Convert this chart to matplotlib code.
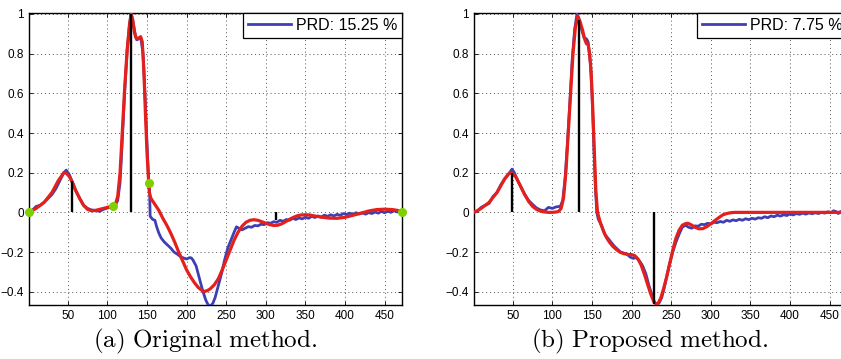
import matplotlib
matplotlib.use("Agg")
import matplotlib.pyplot as plt

plt.rcParams['font.family'] = ['Liberation Sans', 'DejaVu Sans']
plt.rcParams['mathtext.fontset'] = 'cm'

# ---- panel (a): original method ----
a_blue_x = [1,5,10,15,20,25,30,35,40,45,48,52,55,60,65,70,75,80,85,90,95,100,105,107,110,113,116,119,122,125,128,130,132,135,137,140,142,145,148,150,152,153,154,157,160,162,165,168,172,176,180,184,188,192,196,200,204,206,208,212,216,220,224,227,230,233,236,240,244,248,252,256,260,263,266,270,274,278,282,286,290,294,298,302,306,310,314,318,322,326,330,334,338,342,346,350,354,358,362,366,370,374,378,382,386,390,394,398,402,406,410,414,418,422,426,430,434,438,442,446,450,454,458,462,466,470,472]
a_blue_y = [0,0.01,0.03,0.035,0.05,0.07,0.09,0.12,0.16,0.2,0.213,0.19,0.16,0.11,0.07,0.035,0.02,0.012,0.01,0.005,0.015,0.022,0.028,0.03,0.035,0.06,0.15,0.38,0.62,0.82,0.95,1.0,0.97,0.9,0.87,0.875,0.885,0.8,0.55,0.35,0.17,0.15,-0.02,-0.035,-0.04,-0.07,-0.105,-0.13,-0.15,-0.165,-0.18,-0.2,-0.21,-0.222,-0.23,-0.235,-0.228,-0.23,-0.24,-0.27,-0.33,-0.39,-0.44,-0.465,-0.472,-0.46,-0.43,-0.37,-0.31,-0.24,-0.18,-0.14,-0.1,-0.073,-0.08,-0.088,-0.08,-0.072,-0.075,-0.066,-0.068,-0.06,-0.062,-0.052,-0.055,-0.047,-0.05,-0.04,-0.045,-0.036,-0.04,-0.03,-0.036,-0.028,-0.033,-0.024,-0.03,-0.02,-0.026,-0.018,-0.024,-0.014,-0.02,-0.012,-0.018,-0.01,-0.015,-0.006,-0.01,-0.004,-0.01,-0.002,-0.008,-0.003,-0.009,-0.001,-0.006,0.002,-0.004,0.005,-0.002,0.006,0.0,0.008,0.002,0.006,0.0]

a_red_x = [1,10,20,30,38,45,48,52,56,60,65,70,75,80,85,90,95,100,107,110,113,116,119,122,125,128,130,132,134,136,138,140,142,144,146,148,150,152,153,155,160,165,170,175,180,185,190,195,200,205,210,215,220,223,226,230,235,240,245,250,255,260,265,270,275,280,285,290,295,300,305,310,315,320,325,330,335,340,345,350,355,360,370,380,390,400,410,420,430,440,450,460,466,472]
a_red_y = [0,0.02,0.05,0.1,0.16,0.2,0.198,0.18,0.15,0.11,0.07,0.035,0.015,0.008,0.01,0.015,0.02,0.025,0.032,0.04,0.08,0.2,0.42,0.64,0.82,0.95,1.0,0.97,0.91,0.88,0.875,0.88,0.885,0.86,0.72,0.5,0.3,0.16,0.1,0.07,0.04,0.01,-0.03,-0.065,-0.105,-0.15,-0.2,-0.245,-0.29,-0.325,-0.355,-0.38,-0.395,-0.398,-0.395,-0.385,-0.365,-0.335,-0.29,-0.24,-0.19,-0.14,-0.1,-0.07,-0.05,-0.04,-0.037,-0.04,-0.047,-0.055,-0.062,-0.066,-0.065,-0.058,-0.047,-0.035,-0.025,-0.017,-0.013,-0.012,-0.013,-0.017,-0.024,-0.029,-0.03,-0.025,-0.015,-0.004,0.007,0.014,0.016,0.014,0.01,0.005]

a_knots_x = [1, 107, 153, 472]
a_knots_y = [0, 0.032, 0.15, 0.0]
a_stem_x = [55, 130, 313]
a_stem_y = [0.16, 1.0, -0.04]
a_prd = 'PRD: 15.25 %'

# ---- panel (b): proposed method ----
b_blue_x = [1,5,10,15,20,25,30,35,40,45,49,52,55,60,65,70,75,80,85,90,95,100,105,110,113,116,119,122,125,128,131,134,137,140,143,145,148,150,152,154,156,158,160,163,166,170,174,178,182,186,190,194,198,202,206,210,214,218,222,226,229,232,235,238,241,244,248,252,256,260,264,268,272,276,280,284,288,292,296,300,304,308,312,316,320,324,328,332,336,340,344,348,352,356,360,364,368,372,376,380,384,388,392,396,400,404,408,412,416,420,424,428,432,436,440,444,448,452,455,458,461,464,468,472]
b_blue_y = [0,0.005,0.025,0.035,0.045,0.08,0.1,0.14,0.17,0.195,0.218,0.2,0.17,0.13,0.09,0.06,0.04,0.022,0.012,0.008,0.025,0.02,0.028,0.03,0.06,0.17,0.35,0.55,0.77,0.92,1.0,0.97,0.92,0.88,0.875,0.86,0.75,0.6,0.38,0.15,0.0,-0.035,-0.05,-0.075,-0.11,-0.13,-0.15,-0.17,-0.185,-0.2,-0.205,-0.21,-0.225,-0.232,-0.228,-0.245,-0.27,-0.31,-0.37,-0.42,-0.455,-0.468,-0.455,-0.43,-0.385,-0.33,-0.26,-0.2,-0.15,-0.11,-0.075,-0.065,-0.075,-0.08,-0.068,-0.07,-0.06,-0.062,-0.055,-0.058,-0.05,-0.052,-0.046,-0.05,-0.04,-0.045,-0.038,-0.042,-0.035,-0.04,-0.032,-0.037,-0.03,-0.034,-0.027,-0.03,-0.022,-0.027,-0.018,-0.022,-0.014,-0.019,-0.012,-0.016,-0.008,-0.013,-0.006,-0.01,-0.004,-0.009,-0.003,-0.007,-0.002,-0.006,0.0,-0.004,0.003,-0.002,0.008,0.004,-0.006,0.004,0.0,0.003]

b_red_x = [1,5,10,15,20,25,30,35,40,45,48,52,55,60,65,70,75,80,85,90,95,100,105,108,111,114,117,120,123,126,129,132,135,138,141,143,145,147,149,151,153,155,157,160,164,168,172,176,180,185,190,195,200,204,208,212,216,220,224,228,231,234,237,240,244,248,252,256,260,264,268,271,275,280,285,290,295,300,305,310,315,320,325,330,472]
b_red_y = [0.002,0.008,0.02,0.035,0.05,0.075,0.1,0.135,0.17,0.195,0.2,0.19,0.17,0.13,0.09,0.055,0.03,0.015,0.006,0.002,0.0,0.0,0.002,0.005,0.02,0.07,0.2,0.4,0.6,0.8,0.93,0.99,0.96,0.92,0.87,0.85,0.85,0.8,0.7,0.52,0.3,0.1,0.0,-0.045,-0.09,-0.125,-0.15,-0.17,-0.185,-0.2,-0.208,-0.212,-0.213,-0.218,-0.235,-0.265,-0.31,-0.36,-0.41,-0.45,-0.463,-0.455,-0.43,-0.39,-0.33,-0.26,-0.19,-0.13,-0.09,-0.065,-0.057,-0.055,-0.062,-0.075,-0.083,-0.082,-0.072,-0.058,-0.042,-0.027,-0.013,-0.006,-0.002,0.0,0.0]

b_stem_x = [49, 134, 228]
b_stem_y = [0.2, 0.97, -0.46]
b_prd = 'PRD: 7.75 %'

xticks = [50, 100, 150, 200, 250, 300, 350, 400, 450]
yticks = [-0.4, -0.2, 0, 0.2, 0.4, 0.6, 0.8, 1]
ytick_labels = ['\u22120.4', '\u22120.2', '0', '0.2', '0.4', '0.6', '0.8', '1']

blue = '#3f3fb4'
red = '#e4201c'
green = '#7ed000'

W, H = 841, 359
fig = plt.figure(figsize=(W / 100, H / 100), dpi=100)
ax1 = fig.add_axes([29 / W, 54 / H, 373 / W, 292 / H])
ax2 = fig.add_axes([474 / W, 54 / H, 373 / W, 292 / H])


def draw(ax, bx, by, rx, ry, sx, sy, prd):
    ax.plot(bx, by, color=blue, lw=2.0, label=prd, zorder=3)
    ax.plot(rx, ry, color=red, lw=2.3, zorder=4)
    ax.vlines(sx, 0, sy, color='black', lw=1.7, zorder=5)
    ax.set_xlim(1, 472)
    ax.set_ylim(-0.467, 1.005)
    ax.set_xticks(xticks)
    ax.set_yticks(yticks)
    ax.set_yticklabels(ytick_labels)
    ax.tick_params(direction='in', top=True, right=True, labelsize=8.5,
                   length=3, width=0.6, pad=3.5)
    ax.grid(True, linestyle=(0, (1, 3)), color='#555555', lw=0.7)
    for s in ax.spines.values():
        s.set_linewidth(1.0)
    leg = ax.legend(loc='upper right', fontsize=11.5, fancybox=False,
                    framealpha=1, edgecolor='black', borderpad=0.3,
                    handlelength=2.7, handletextpad=0.3,
                    borderaxespad=0.0)
    leg.get_frame().set_linewidth(0.9)


draw(ax1, a_blue_x, a_blue_y, a_red_x, a_red_y, a_stem_x, a_stem_y, a_prd)
ax1.plot(a_knots_x, a_knots_y, 'o', color=green, ms=5.5, zorder=6, clip_on=False)
draw(ax2, b_blue_x, b_blue_y, b_red_x, b_red_y, b_stem_x, b_stem_y, b_prd)

fig.text(205 / W, 1 - 341 / H, r'$\mathrm{(a)\ Original\ method.}$',
         ha='center', va='center', fontsize=18)
fig.text(650 / W, 1 - 341 / H, r'$\mathrm{(b)\ Proposed\ method.}$',
         ha='center', va='center', fontsize=18)

fig.savefig('out.png', dpi=100)
